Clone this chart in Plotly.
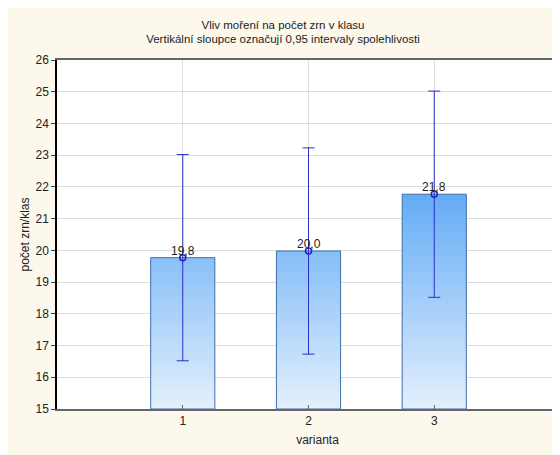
import plotly.graph_objects as go

varianta = [1, 2, 3]
means = [19.77, 19.98, 21.77]
ci_half = [3.25, 3.25, 3.25]
y_ticks = [15, 16, 17, 18, 19, 20, 21, 22, 23, 24, 25, 26]

title_text = "Vliv moření na počet zrn v klasu<br>Vertikální sloupce označují 0,95 intervaly spolehlivosti"
x_title = "varianta"
y_title = "počet zrn/klas"

BASE = 15
HALF_W = 0.255

W, H = 570, 447
ML, MR, MT, MB = 49, 0, 52, 46
PW, PH = W - ML - MR, H - MT - MB
PX_PER_UNIT = 125.75
X_MAX = PW / PX_PER_UNIT

fig = go.Figure()

for xv, m in zip(varianta, means):
    xs = [xv - HALF_W, xv - HALF_W, xv + HALF_W, xv + HALF_W, xv - HALF_W]
    ys = [BASE, m, m, BASE, BASE]
    fig.add_trace(go.Scatter(
        x=xs, y=ys, mode="lines", fill="toself",
        line=dict(color="#3f6fa8", width=1),
        fillgradient=dict(type="vertical", start=15, stop=22.5,
                          colorscale=[[0, "#e4f0fd"], [1, "#55a4f5"]]),
        hoverinfo="skip", showlegend=False,
    ))

fig.add_trace(go.Scatter(
    x=varianta, y=means, mode="markers",
    marker=dict(symbol="circle-open", size=6, color="#2222c8", line=dict(width=1.5, color="#2222c8")),
    error_y=dict(type="data", array=ci_half, visible=True, color="#2d2dc8", thickness=1, width=6),
    showlegend=False,
))

for xv, m in zip(varianta, means):
    fig.add_annotation(x=xv, y=m, text=f"{m:.1f}".replace(".", ","), showarrow=False,
                       yanchor="bottom", yshift=-2,
                       font=dict(family="Liberation Sans, Arial", size=12, color="#222222"))

fig.update_layout(
    width=W, height=H,
    margin=dict(l=ML, r=MR, t=MT, b=MB),
    paper_bgcolor="#fdf8ec",
    plot_bgcolor="#ffffff",
    font=dict(family="Liberation Sans, Arial", size=12, color="#222222"),
    title=dict(text=title_text, xref="paper", x=(275 - ML) / PW, xanchor="center",
               yref="container", y=1 - 20.5 / H, yanchor="middle",
               font=dict(size=11.5, color="#222222")),
    xaxis=dict(
        range=[0, X_MAX], tickvals=varianta, ticktext=[str(v) for v in varianta],
        showgrid=True, gridcolor="#dcdcdc", gridwidth=1,
        showline=True, linecolor="#666666", linewidth=2, mirror=True,
        ticks="inside", ticklen=4, tickcolor="#666666",
        title=dict(text=x_title, standoff=8, font=dict(size=12)),
        zeroline=False, automargin=False,
    ),
    yaxis=dict(
        range=[15, 26], tickvals=y_ticks,
        showgrid=True, gridcolor="#dcdcdc", gridwidth=1,
        showline=True, linecolor="#000000", linewidth=1.5, mirror=False,
        ticks="outside", ticklen=4, tickcolor="#444444",
        title=dict(text=y_title, standoff=3, font=dict(size=12)),
        zeroline=False, automargin=False,
    ),
)

fig.write_html("out.html", config={"responsive": False})
